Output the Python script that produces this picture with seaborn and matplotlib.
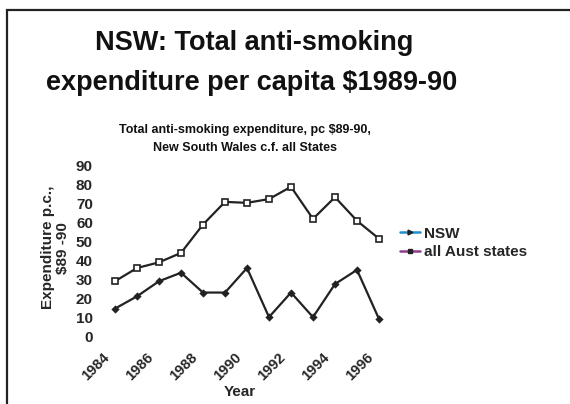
import pandas as pd
import matplotlib
matplotlib.use("Agg")
import matplotlib.pyplot as plt
import matplotlib.transforms as mtransforms
from matplotlib.lines import Line2D
from matplotlib.patches import Rectangle
import seaborn as sns

years = list(range(1984, 1997))
nsw = [14.5, 21, 29, 33.5, 23, 23, 36, 10, 23, 10, 27.5, 35, 9]
all_states = [29, 36, 39, 44, 59, 71, 70.5, 72.5, 79, 62, 73.5, 61, 51.5]
series_names = ["NSW", "all Aust states"]
legend_colors = ["#1f8fd0", "#8e3b8e"]
year_ticks = [1984, 1986, 1988, 1990, 1992, 1994, 1996]
y_ticks = list(range(0, 100, 10))

data = pd.DataFrame({
    "year": years * 2,
    "value": nsw + all_states,
    "series": ["NSW"] * len(years) + ["all Aust states"] * len(years),
})

sns.set_style("white")
plt.rcParams["font.family"] = ["Liberation Sans", "DejaVu Sans"]
plt.rcParams["font.weight"] = "bold"

fig = plt.figure(figsize=(5.7, 4.04), dpi=100)
ax = fig.add_axes([104 / 570, 68 / 404, 286 / 570, 170 / 404])

sns.lineplot(
    ax=ax,
    data=data,
    x="year",
    y="value",
    hue="series",
    style="series",
    palette={"NSW": "#222222", "all Aust states": "#222222"},
    markers={"NSW": "D", "all Aust states": "s"},
    dashes=False,
    linewidth=1.6,
    legend=False,
)
for line, face, size in zip(ax.lines, ["#222222", "white"], [3, 5]):
    line.set_markerfacecolor(face)
    line.set_markeredgecolor("#222222")
    line.set_markersize(size)
    line.set_markeredgewidth(1.2)

ax.set_xlim(1983.5, 1996.5)
ax.set_ylim(0, 90)
ax.set_xticks(year_ticks)
ax.set_yticks(y_ticks)
sns.despine(ax=ax, left=True, bottom=True)
ax.tick_params(axis="y", length=0, pad=8, labelsize=11)
ax.tick_params(axis="x", length=0, pad=10, labelsize=10.5)
shift = mtransforms.ScaledTranslation(-13 / 100, 0, fig.dpi_scale_trans)
for lab in ax.get_xticklabels():
    lab.set_rotation(45)
    lab.set_ha("right")
    lab.set_va("top")
    lab.set_rotation_mode("anchor")
    lab.set_transform(lab.get_transform() + shift)

ax.set_xlabel("Year", fontsize=11, fontweight="bold")
ax.xaxis.set_label_coords(0.474, -0.29)
ax.set_ylabel("Expenditure p.c.,\n$89 -90", fontsize=11, fontweight="bold", linespacing=1.05)
ax.yaxis.set_label_coords(-0.12, 0.52)

handles = [
    Line2D([], [], color=c, lw=1.8, marker=m, markersize=3.5,
           markerfacecolor="#222222", markeredgecolor="#222222")
    for c, m in zip(legend_colors, [">", "s"])
]
ax.legend(handles, series_names, loc="center left", bbox_to_anchor=(1.014, 0.547),
          borderaxespad=0, frameon=False, handlelength=1.3, handletextpad=0.25,
          labelspacing=0.3, prop={"weight": "bold", "size": 11})

fig.text(254 / 570, 1 - 43 / 404, "NSW: Total anti-smoking", ha="center", va="center",
         fontsize=19.5, fontweight="bold", color="#111111")
fig.text(252 / 570, 1 - 83 / 404, "expenditure per capita $1989-90", ha="center", va="center",
         fontsize=19.5, fontweight="bold", color="#111111")
fig.text(245 / 570, 1 - 130 / 404, "Total anti-smoking expenditure, pc $89-90,", ha="center",
         va="center", fontsize=9, fontweight="bold", color="#111111")
fig.text(245 / 570, 1 - 148 / 404, "New South Wales c.f. all States", ha="center",
         va="center", fontsize=9, fontweight="bold", color="#111111")

fig.add_artist(Rectangle((7 / 570, -0.1), 1.2, 1.1 - 10 / 404, transform=fig.transFigure,
                         fill=False, lw=1.6, ec="#222222"))

fig.savefig("out.png", dpi=100)
